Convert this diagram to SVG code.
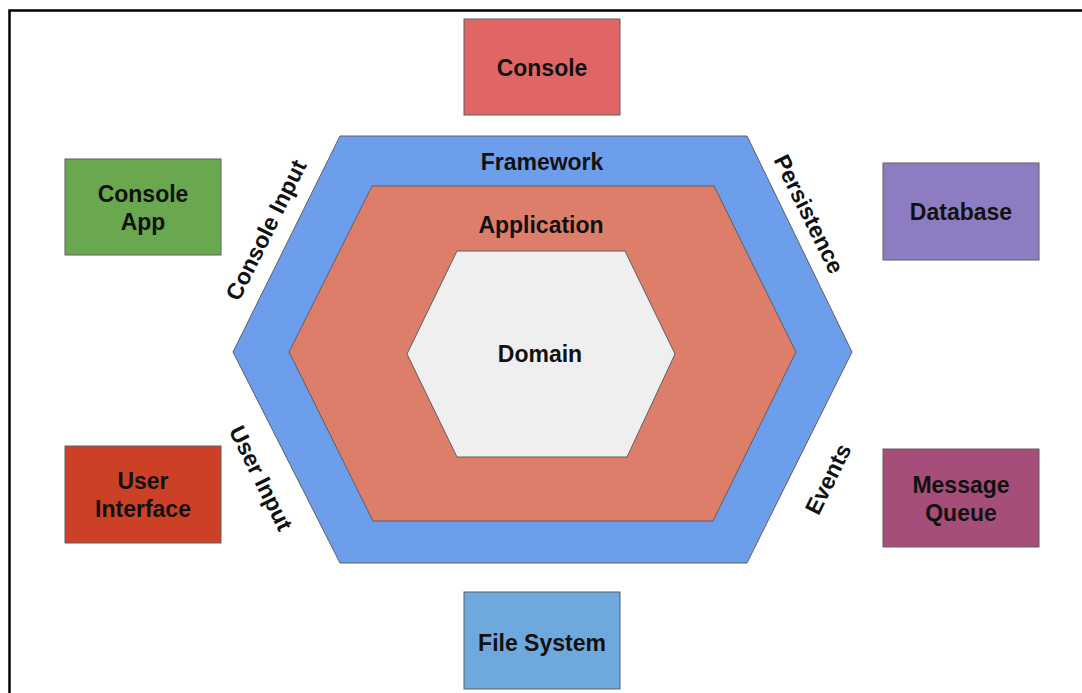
<svg xmlns="http://www.w3.org/2000/svg" width="1082" height="693" viewBox="0 0 1082 693">
  <style>
    .lbl { font-family: "Liberation Sans", Arial, sans-serif; font-weight: bold; font-size: 23px; fill: #111; text-anchor: middle; }
    .box { stroke: #5f5f5f; stroke-width: 1; }
    .hex { stroke: #5f5f5f; stroke-width: 1; }
  </style>
  <rect width="1082" height="693" fill="#ffffff"/>
  <!-- page frame -->
  <path d="M9.5,700 V10.5 H1090" fill="none" stroke="#000" stroke-width="2.5"/>

  <!-- concentric layers -->
  <g id="framework">
    <polygon class="hex" points="340,136 747,136 852,352 747,563 340,563 233,352" fill="#6d9eeb"/>
    <text class="lbl" x="542" y="170">Framework</text>
  </g>
  <g id="application">
    <polygon class="hex" points="372,186 714,186 796,352 713,521 373,521 289,352" fill="#dd7e6b"/>
    <text class="lbl" x="541" y="233">Application</text>
  </g>
  <g id="domain">
    <polygon class="hex" points="457,251 625,251 675,354 627,457 457,457 407,354" fill="#efefef"/>
    <text class="lbl" x="540" y="362">Domain</text>
  </g>

  <!-- port labels along the hexagon edges -->
  <g id="ports">
    <text class="lbl" transform="translate(266,230) rotate(-63.6)" y="8">Console Input</text>
    <text class="lbl" transform="translate(809,214) rotate(63.6)" y="8">Persistence</text>
    <text class="lbl" transform="translate(261,478) rotate(63.6)" y="8">User Input</text>
    <text class="lbl" transform="translate(828,479) rotate(-63.6)" y="8">Events</text>
  </g>

  <!-- adapters -->
  <g id="console">
    <rect class="box" x="464" y="19" width="156" height="96" fill="#e06666"/>
    <text class="lbl" x="542" y="76">Console</text>
  </g>
  <g id="console-app">
    <rect class="box" x="65" y="159" width="156" height="96" fill="#6aa84f"/>
    <text class="lbl" x="143" y="202">Console</text>
    <text class="lbl" x="143" y="230">App</text>
  </g>
  <g id="database">
    <rect class="box" x="883" y="163" width="156" height="97" fill="#8e7cc3"/>
    <text class="lbl" x="961" y="220">Database</text>
  </g>
  <g id="user-interface">
    <rect class="box" x="65" y="446" width="156" height="97" fill="#cc4125"/>
    <text class="lbl" x="143" y="489">User</text>
    <text class="lbl" x="143" y="517">Interface</text>
  </g>
  <g id="message-queue">
    <rect class="box" x="883" y="449" width="156" height="98" fill="#a64d79"/>
    <text class="lbl" x="961" y="493">Message</text>
    <text class="lbl" x="961" y="521">Queue</text>
  </g>
  <g id="file-system">
    <rect class="box" x="464" y="592" width="156" height="97" fill="#6fa8dc"/>
    <text class="lbl" x="542" y="651">File System</text>
  </g>

  <!-- no connectors in this figure -->
  <g id="connectors"/>
</svg>
